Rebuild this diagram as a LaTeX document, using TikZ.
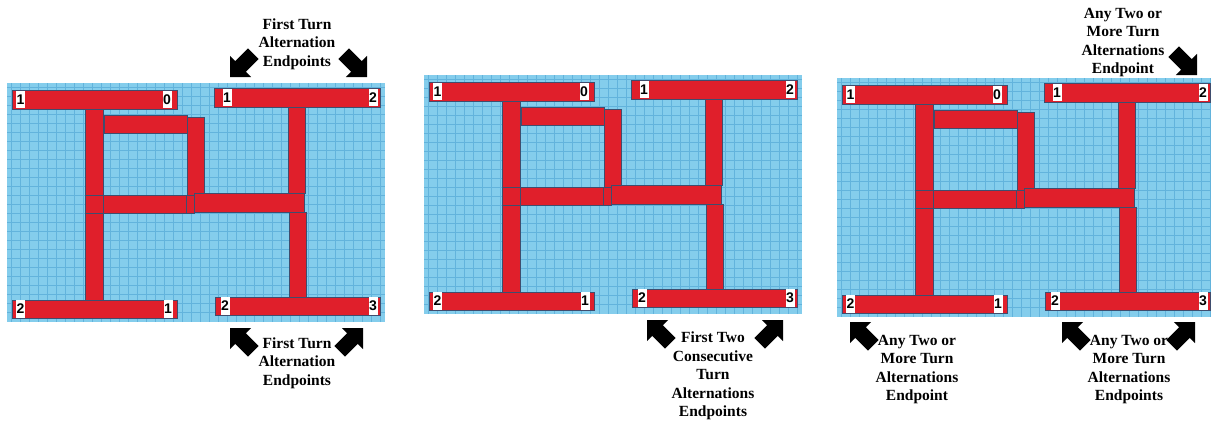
\documentclass[tikz,border=0pt]{standalone}
\usepackage{fontspec}
\setmainfont{Liberation Serif}
\newfontfamily\digitfont{Liberation Sans}
\definecolor{bgblue}{HTML}{84CDEC}
\definecolor{gridblue}{HTML}{62B3DC}
\definecolor{barred}{HTML}{E01F2B}
\definecolor{barline}{HTML}{3F4D6E}
\tikzset{
 bar/.style={fill=barred, draw=barline, line width=0.8pt},
 gridline/.style={draw=gridblue, line width=0.6pt},
 numbox/.style={fill=white, inner sep=0pt, minimum width=9pt, minimum height=17.5pt, font=\digitfont\bfseries\fontsize{14}{14}\selectfont},
 lbl/.style={align=center, font=\bfseries\fontsize{15.5}{18.5}\selectfont, inner sep=0pt, text=black},
 blk/.style={fill=black}
}
\newcommand\blockarrow[2]{\fill[blk, shift={#1}, rotate=#2] (0,0) -- (-15,15) -- (-15,7.5) -- (-33,7.5) -- (-33,-7.5) -- (-15,-7.5) -- (-15,-15) -- cycle;}
\newcommand\panelpic[1]{%
 \fill[bgblue] (7,83) rectangle (385,322);
 \foreach \gx in {11,20,...,383} \draw[gridline] (\gx,83) -- (\gx,322);
 \foreach \gy in {87,96,...,320} \draw[gridline] (7,\gy) -- (385,\gy);
 \draw[bar] (12,90) rectangle (177,109);
 \draw[bar] (214,88) rectangle (380,107);
 \draw[bar] (12,300) rectangle (177,318);
 \draw[bar] (215,297) rectangle (380,315);
 \draw[bar] (85,109) rectangle (103,195);
 \draw[bar] (85,195) rectangle (103,213);
 \draw[bar] (85,213) rectangle (103,300);
 \draw[bar] (104,115) rectangle (187,133);
 \draw[bar] (187,117) rectangle (204,195);
 \draw[bar] (103,195) rectangle (186,213);
 \draw[bar] (186,195) rectangle (194,213);
 \draw[bar] (194,193) rectangle (304,212);
 \draw[bar] (288,107) rectangle (305,193);
 \draw[bar] (289,212) rectangle (306,297);
 \node[numbox] (#1-a) at (20.5,99.5) {1};
 \node[numbox] (#1-b) at (167,99.5) {0};
 \node[numbox] (#1-c) at (227,97.5) {1};
 \node[numbox] (#1-d) at (373,97.5) {2};
 \node[numbox] (#1-e) at (20.5,309) {2};
 \node[numbox] (#1-f) at (168,309) {1};
 \node[numbox] (#1-g) at (225,306) {2};
 \node[numbox] (#1-h) at (373,306) {3};
}
\begin{document}
\begin{tikzpicture}[x=1pt,y=-1pt]
\useasboundingbox (0,0) rectangle (1211,421);
\clip (0,0) rectangle (1211,421);
\fill[white] (0,0) rectangle (1211,421);
\begin{scope}\panelpic{p1}\end{scope}
\begin{scope}[shift={(417,-8)}]\panelpic{p2}\end{scope}
\begin{scope}[shift={(830,-5)}]\panelpic{p3}\end{scope}
% panel 1 labels
\node[lbl] (t1) at (297,44) {First Turn\\Alternation\\Endpoints};
\node[lbl] (t2) at (297,363) {First Turn\\Alternation\\Endpoints};
\blockarrow{(230,77)}{225}
\blockarrow{(367,77)}{315}
\blockarrow{(230,328)}{135}
\blockarrow{(363,328)}{45}
% panel 2 labels
\node[lbl] (t3) at (713,376) {First Two\\Consecutive\\Turn\\Alternations\\Endpoints};
\blockarrow{(647,320)}{135}
\blockarrow{(783,320)}{45}
% panel 3 labels
\node[lbl] (t4) at (1123,42.5) {Any Two or\\More Turn\\Alternations\\Endpoint};
\node[lbl] (t5) at (917,369.5) {Any Two or\\More Turn\\Alternations\\Endpoint};
\node[lbl] (t6) at (1129,369.5) {Any Two or\\More Turn\\Alternations\\Endpoints};
\blockarrow{(1197,75)}{315}
\blockarrow{(850,322)}{135}
\blockarrow{(1062,322)}{135}
\blockarrow{(1195,322)}{45}
\end{tikzpicture}
\end{document}
